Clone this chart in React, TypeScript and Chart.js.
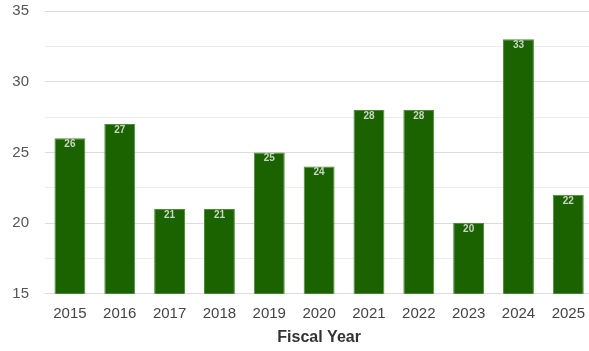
import React, { useEffect, useRef } from "react";
import { Chart, registerables } from "chart.js";

Chart.register(...registerables);

const years = ["2015", "2016", "2017", "2018", "2019", "2020", "2021", "2022", "2023", "2024", "2025"];
const values = [26, 27, 21, 21, 25, 24, 28, 28, 20, 33, 22];
const yTicks = [15, 20, 25, 30, 35];
const axisTitle = "Fiscal Year";

const labelPlugin = {
  id: "barLabels",
  afterDatasetsDraw(chart: any) {
    const ctx = chart.ctx;
    const meta = chart.getDatasetMeta(0);
    ctx.save();
    ctx.font = "bold 10px 'Liberation Sans', Arial, sans-serif";
    ctx.fillStyle = "#c9d6c2";
    ctx.textAlign = "center";
    ctx.textBaseline = "middle";
    meta.data.forEach((el: any, i: number) => {
      ctx.fillText(String(values[i]), el.x, el.y + 6);
    });
    ctx.restore();
  },
};

export default function App() {
  const ref = useRef<HTMLCanvasElement>(null);
  useEffect(() => {
    document.body.style.margin = "0";
    const chart = new Chart(ref.current!, {
      type: "bar",
      data: {
        labels: years,
        datasets: [
          {
            data: values,
            backgroundColor: "#1a6300",
            borderColor: "#4c8c34",
            borderWidth: 1,
            categoryPercentage: 1,
            barPercentage: 0.62,
          },
        ],
      },
      options: {
        animation: false,
        responsive: false,
        maintainAspectRatio: false,
        layout: { padding: { top: 0, left: 0, right: 0, bottom: 4 } },
        plugins: { legend: { display: false }, tooltip: { enabled: false } },
        scales: {
          x: {
            grid: { display: false, drawTicks: false },
            border: { display: false },
            ticks: {
              color: "#444",
              font: { size: 15, family: "'Liberation Sans', Arial, sans-serif" },
              padding: 11,
              maxRotation: 0,
            },
            title: {
              display: true,
              text: axisTitle,
              color: "#333",
              font: { size: 16, weight: "bold", family: "'Liberation Sans', Arial, sans-serif" },
              padding: { top: -6, bottom: 0 },
            },
          },
          y: {
            min: 15,
            max: 35,
            afterFit(axis: any) {
              axis.width = 45;
              axis.paddingTop = 11;
              axis.paddingBottom = 0;
            },
            afterBuildTicks(axis: any) {
              const t: any[] = [];
              for (let i = 0; i < yTicks.length; i++) {
                t.push({ value: yTicks[i] });
                if (i < yTicks.length - 1) t.push({ value: (yTicks[i] + yTicks[i + 1]) / 2 });
              }
              axis.ticks = t;
            },
            grid: {
              drawTicks: false,
              color: (c: any) => (yTicks.includes(c.tick?.value) ? "#dcdcdc" : "#ececec"),
              lineWidth: 1,
            },
            border: { display: false },
            ticks: {
              color: "#555",
              font: { size: 15, family: "'Liberation Sans', Arial, sans-serif" },
              padding: 16,
              callback: (v: any) => (yTicks.includes(Number(v)) ? String(v) : ""),
            },
          },
        },
      },
      plugins: [labelPlugin],
    });
    return () => chart.destroy();
  }, []);
  return (
    <div style={{ width: 589, height: 351, overflow: "hidden" }}>
      <canvas ref={ref} width={596} height={351} style={{ display: "block" }} />
    </div>
  );
}
